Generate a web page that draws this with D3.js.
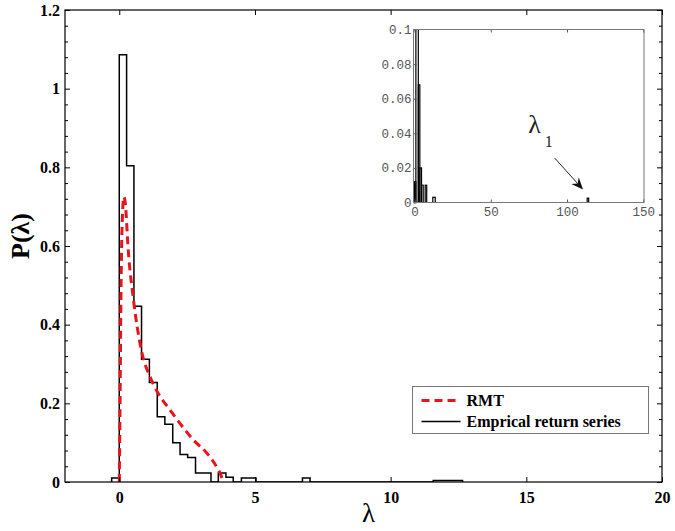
<!DOCTYPE html>
<html>
<head>
<meta charset="utf-8">
<script src="https://cdn.jsdelivr.net/npm/d3@7"></script>
<style>
  html, body { margin: 0; padding: 0; background: #fff; }
  svg { display: block; }
</style>
</head>
<body>
<script>
// ---------- data ----------
// main histogram (empirical return series): bin edges and heights
const histEdges  = [-0.28, 0, 0.27, 0.54, 0.82, 1.11, 1.40, 1.68, 1.97, 2.24, 2.52, 2.81, 3.10, 3.38, 3.65, 3.93, 4.20, 4.50, 4.78, 5.04, 6.75, 7.03, 11.57, 12.65];
const histValues = [0.01, 1.086, 0.804, 0.447, 0.312, 0.253, 0.166, 0.147, 0.100, 0.070, 0.062, 0.023, 0.023, 0, 0.023, 0.012, 0, 0.01, 0.01, 0, 0.01, 0, 0.004];
// RMT (Marchenko-Pastur) curve
const rmtLambda = [0.0, 0.03, 0.06, 0.10, 0.17, 0.22, 0.33, 0.52, 0.83, 1.13, 1.38, 1.87, 2.27, 2.73, 3.22, 3.59, 3.74, 3.83];
const rmtP      = [0.0, 0.21, 0.46, 0.64, 0.725, 0.71, 0.59, 0.465, 0.33, 0.268, 0.232, 0.183, 0.146, 0.107, 0.074, 0.038, 0.018, 0.0];
// axis ticks
const xTicks = [0, 5, 10, 15, 20];
const yTicks = [0, 0.2, 0.4, 0.6, 0.8, 1, 1.2];
const yMinorTicks = [0.04,0.08,0.12,0.16,0.24,0.28,0.32,0.36,0.44,0.48,0.52,0.56,0.64,0.68,0.72,0.76,0.84,0.88,0.92,0.96,1.04,1.08,1.12,1.16];
// legend
const legendLabels = ["RMT", "Emprical return series"];
// inset histogram
const insetBinStart = [0.0, 0.9, 2.5, 3.5, 4.6, 7.0, 12.0, 113.2];
const insetBinEnd   = [0.9, 2.5, 3.5, 4.6, 5.7, 8.0, 13.6, 114.2];
const insetValues   = [0.012, 0.16, 0.068, 0.02, 0.01, 0.01, 0.003, 0.0025];
const insetXTicks = [0, 50, 100, 150];
const insetYTicks = [0, 0.02, 0.04, 0.06, 0.08, 0.1];
// annotation for largest eigenvalue (inset data coords)
const arrowTail = [92, 0.0256];
const arrowTip  = [110.5, 0.0075];
const annoLabelPos = [74.5, 0.040];

// ---------- layout ----------
const W = 675, H = 531;
const L = 65, R = 662, T = 10, B = 482;
const svg = d3.select("body").append("svg").attr("width", W).attr("height", H);

const x = d3.scaleLinear().domain([-2, 20]).range([L, R]);
const y = d3.scaleLinear().domain([0, 1.2]).range([B, T]);

const serif = "'Liberation Serif','Times New Roman',Times,serif";

svg.append("defs").append("clipPath").attr("id", "clipMain")
  .append("rect").attr("x", L).attr("y", T).attr("width", R - L).attr("height", B - T);

// histogram step outline
const histPts = [];
histPts.push([histEdges[0], 0]);
histValues.forEach((v, i) => {
  histPts.push([histEdges[i], v]);
  histPts.push([histEdges[i + 1], v]);
});
histPts.push([histEdges[histEdges.length - 1], 0]);
const lineHist = d3.line().x(d => x(d[0])).y(d => y(d[1]));
svg.append("path").attr("clip-path", "url(#clipMain)")
  .attr("d", lineHist(histPts))
  .attr("fill", "none").attr("stroke", "#000").attr("stroke-width", 1.5);

// RMT curve
const rmtData = rmtLambda.map((l, i) => [l, rmtP[i]]);
svg.append("path").attr("clip-path", "url(#clipMain)")
  .attr("d", d3.line().x(d => x(d[0])).y(d => y(d[1])).curve(d3.curveMonotoneX)(rmtData))
  .attr("fill", "none").attr("stroke", "#e8141c").attr("stroke-width", 3)
  .attr("stroke-dasharray", "8,5");

// axes
function styleAxis(g) {
  g.select(".domain").remove();
  g.selectAll(".tick line").attr("stroke", "#000");
  g.selectAll(".tick text").attr("font-family", serif).attr("font-weight", "bold")
    .attr("font-size", 16).attr("fill", "#000");
}
svg.append("g").attr("transform", `translate(0,${B})`)
  .call(d3.axisBottom(x).tickValues(xTicks).tickSizeInner(-5).tickSizeOuter(0).tickPadding(10).tickFormat(d => String(d)))
  .call(styleAxis);
svg.append("g").attr("transform", `translate(0,${T})`)
  .call(d3.axisTop(x).tickValues(xTicks).tickSizeInner(-5).tickSizeOuter(0).tickFormat(""))
  .call(styleAxis);
svg.append("g").attr("transform", `translate(${L},0)`)
  .call(d3.axisLeft(y).tickValues(yTicks).tickSizeInner(-5).tickSizeOuter(0).tickPadding(5).tickFormat(d => String(d)))
  .call(styleAxis);
svg.append("g").attr("transform", `translate(${L},0)`)
  .call(d3.axisLeft(y).tickValues(yMinorTicks).tickSizeInner(-3).tickSizeOuter(0).tickFormat(""))
  .call(styleAxis);
svg.append("g").attr("transform", `translate(${R},0)`)
  .call(d3.axisRight(y).tickValues(yTicks).tickSizeInner(-5).tickSizeOuter(0).tickFormat(""))
  .call(styleAxis);
svg.append("g").attr("transform", `translate(${R},0)`)
  .call(d3.axisRight(y).tickValues(yMinorTicks).tickSizeInner(-3).tickSizeOuter(0).tickFormat(""))
  .call(styleAxis);

// frame
svg.append("rect").attr("x", L).attr("y", T).attr("width", R - L).attr("height", B - T)
  .attr("fill", "none").attr("stroke", "#000").attr("stroke-width", 1.2);

// axis titles
svg.append("text").attr("x", (L + R) / 2 + 5).attr("y", 522)
  .attr("text-anchor", "middle").attr("font-family", serif).attr("font-size", 27)
  .text("λ");
svg.append("text").attr("transform", `translate(29,${(T + B) / 2 - 10}) rotate(-90)`)
  .attr("text-anchor", "middle").attr("font-family", serif).attr("font-weight", "bold").attr("font-size", 26)
  .text("P(λ)");

// legend
const lg = svg.append("g");
lg.append("rect").attr("x", 412.5).attr("y", 386.5).attr("width", 236).attr("height", 47)
  .attr("fill", "#fff").attr("stroke", "#777").attr("stroke-width", 1);
lg.append("line").attr("x1", 421.5).attr("x2", 460.5).attr("y1", 400.5).attr("y2", 400.5)
  .attr("stroke", "#e8141c").attr("stroke-width", 3).attr("stroke-dasharray", "8,5");
lg.append("line").attr("x1", 421.5).attr("x2", 460.5).attr("y1", 421.5).attr("y2", 421.5)
  .attr("stroke", "#000").attr("stroke-width", 1.3);
lg.selectAll("text.lab").data(legendLabels).join("text").attr("class", "lab")
  .attr("x", 466.5).attr("y", (d, i) => 406 + i * 21)
  .attr("font-family", serif).attr("font-weight", "bold").attr("font-size", 16)
  .text(d => d);

// ---------- inset ----------
const iL = 413.5, iR = 644, iT = 29.5, iB = 202.5;
const ix = d3.scaleLinear().domain([0, 150]).range([414.5, 643.3]);
const iy = d3.scaleLinear().domain([0, 0.1]).range([iB, iT]);
const mono = "'Liberation Mono','DejaVu Sans Mono',monospace";

svg.append("rect").attr("x", iL).attr("y", iT).attr("width", iR - iL).attr("height", iB - iT)
  .attr("fill", "#fff").attr("stroke", "none");
svg.append("defs").append("clipPath").attr("id", "clipInset")
  .append("rect").attr("x", iL).attr("y", iT).attr("width", iR - iL).attr("height", iB - iT);

svg.append("g").attr("clip-path", "url(#clipInset)")
  .selectAll("rect").data(insetValues).join("rect")
  .attr("x", (d, i) => ix(insetBinStart[i]))
  .attr("width", (d, i) => Math.max(0.5, ix(insetBinEnd[i]) - ix(insetBinStart[i])))
  .attr("y", d => iy(d))
  .attr("height", d => iB - iy(d))
  .attr("fill", "none").attr("stroke", "#000").attr("stroke-width", 1.2);

function styleInset(g) {
  g.select(".domain").remove();
  g.selectAll(".tick line").attr("stroke", "#555");
  g.selectAll(".tick text").attr("font-family", mono).attr("font-size", 12.5).attr("fill", "#555");
}
svg.append("g").attr("transform", `translate(0,${iB})`)
  .call(d3.axisBottom(ix).tickValues(insetXTicks).tickSizeInner(-3).tickSizeOuter(0).tickPadding(5).tickFormat(d => String(d)))
  .call(styleInset);
svg.append("g").attr("transform", `translate(0,${iT})`)
  .call(d3.axisTop(ix).tickValues(insetXTicks).tickSizeInner(-3).tickSizeOuter(0).tickFormat(""))
  .call(styleInset);
svg.append("g").attr("transform", `translate(${iL},0)`)
  .call(d3.axisLeft(iy).tickValues(insetYTicks).tickSizeInner(-3).tickSizeOuter(0).tickPadding(2).tickFormat(d => String(d)))
  .call(styleInset);
svg.append("rect").attr("x", iL).attr("y", iT).attr("width", iR - iL).attr("height", iB - iT)
  .attr("fill", "none").attr("stroke", "#777").attr("stroke-width", 1);

// annotation lambda_1 with arrow
const lab = svg.append("text").attr("x", ix(annoLabelPos[0])).attr("y", iy(annoLabelPos[1]))
  .attr("font-family", serif).attr("font-size", 26).attr("fill", "#222");
lab.append("tspan").text("λ");
lab.append("tspan").attr("dx", 4).attr("dy", 14).attr("font-size", 16).text("1");

const tx = ix(arrowTail[0]), ty = iy(arrowTail[1]);
const hx = ix(arrowTip[0]), hy = iy(arrowTip[1]);
const len = Math.hypot(hx - tx, hy - ty);
const ux = (hx - tx) / len, uy = (hy - ty) / len;
const nx = -uy, ny = ux;
const hl = 12, hw = 5;
svg.append("line").attr("x1", tx).attr("y1", ty).attr("x2", hx - ux * 8).attr("y2", hy - uy * 8)
  .attr("stroke", "#222").attr("stroke-width", 1);
svg.append("path")
  .attr("d", `M${hx},${hy} L${hx - ux * hl + nx * hw},${hy - uy * hl + ny * hw} L${hx - ux * 8},${hy - uy * 8} L${hx - ux * hl - nx * hw},${hy - uy * hl - ny * hw} Z`)
  .attr("fill", "#111");
</script>
</body>
</html>
